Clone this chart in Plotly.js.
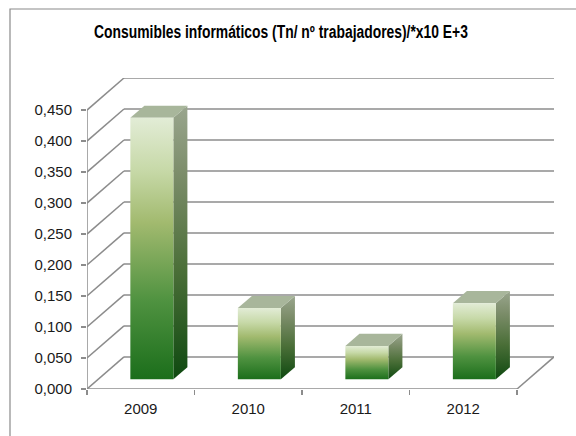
<!DOCTYPE html>
<html>
<head>
<meta charset="utf-8">
<script src="https://cdn.plot.ly/plotly-3.0.1.min.js"></script>
<style>
html,body{margin:0;padding:0;background:#fff;}
#chart{width:576px;height:436px;}
</style>
</head>
<body>
<div id="chart"></div>
<script>
// ---- data ----
const categories = ['2009', '2010', '2011', '2012'];
const values = [0.422, 0.115, 0.054, 0.123];
const yTicks = [0, 0.05, 0.10, 0.15, 0.20, 0.25, 0.30, 0.35, 0.40, 0.45];
const titleText = '<b>Consumibles informáticos (Tn/ nº trabajadores)/*x10 E+3</b>';

// ---- 3D projection geometry (in axis units) ----
const dx = 0.344;     // depth shift along x (category units)
const dy = 0.0518;    // depth shift along y (value units)
const f0 = 0.30, f1 = 0.68; // bar depth span (fraction of full depth)
const hw = 0.20;      // bar half width
const xMin = -0.5, xMax = categories.length - 0.5;
const yTop = yTicks[yTicks.length - 1];

const gridColor = '#8c8c8c';
const traces = [];
function line(xs, ys, w) {
  traces.push({type:'scatter', mode:'lines', x:xs, y:ys, hoverinfo:'skip', showlegend:false,
    line:{color:gridColor, width:w||1.5}, cliponaxis:false});
}
// back wall gridlines and side-wall diagonals
yTicks.forEach(v => {
  line([xMin + dx, xMax + dx], [v + dy, v + dy]);
  line([xMin, xMin + dx], [v, v + dy]);
});
// front axis line, floor front edge and right floor edge
line([xMin, xMin], [0, yTop]);
line([xMin, xMax], [0, 0]);
line([xMax, xMax + dx], [0, dy]);

const frontScale = [[0,'#1b6e1b'],[0.3,'#4f9240'],[0.6,'#a2ba6f'],[0.8,'#c7d9a8'],[1,'#e2ecd6']];
const sideScale = [[0,'#0e4910'],[0.4,'#4b6f38'],[0.75,'#7c8d6a'],[1,'#9aa68e']];

categories.forEach((c, i) => {
  const v = values[i];
  const xl0 = i - hw + f0*dx, xr0 = i + hw + f0*dx;
  const xl1 = i - hw + f1*dx, xr1 = i + hw + f1*dx;
  const b0 = f0*dy, b1 = f1*dy;
  // side face
  traces.push({type:'scatter', mode:'lines', fill:'toself', hoverinfo:'skip', showlegend:false,
    x:[xr0, xr1, xr1, xr0, xr0], y:[b0, b1, v + b1, v + b0, b0],
    line:{width:0, color:'rgba(0,0,0,0)'},
    fillgradient:{type:'vertical', colorscale:sideScale}});
  // top face
  traces.push({type:'scatter', mode:'lines', fill:'toself', hoverinfo:'skip', showlegend:false,
    x:[xl0, xr0, xr1, xl1, xl0], y:[v + b0, v + b0, v + b1, v + b1, v + b0],
    line:{width:0, color:'rgba(0,0,0,0)'}, fillcolor:'#a8b69b'});
  // front face
  traces.push({type:'scatter', mode:'lines', fill:'toself', hoverinfo:'skip', showlegend:false,
    x:[xl0, xr0, xr0, xl0, xl0], y:[b0, b0, v + b0, v + b0, b0],
    line:{width:0, color:'rgba(0,0,0,0)'},
    fillgradient:{type:'vertical', colorscale:frontScale}});
});

const tickFont = {family:'"Liberation Sans Narrow", "Arial Narrow", "Liberation Sans", sans-serif', size:15, color:'#1a1a1a'};
const titleCx = 281;

const layout = {
  width:576, height:436,
  margin:{l:87, r:22, t:78, b:47, pad:0},
  paper_bgcolor:'#ffffff', plot_bgcolor:'rgba(0,0,0,0)',
  separators:',.',
  showlegend:false,
  title:{text:titleText, x:titleCx/576, xref:'container', xanchor:'center',
    y:1 - 32/436, yref:'container', yanchor:'middle',
    font:{family:'"Liberation Sans", sans-serif', size:18, color:'#000'}},
  xaxis:{range:[xMin, xMax + dx], showgrid:false, zeroline:false, showline:false,
    tickmode:'array', tickvals:categories.map((c,i)=>i), ticktext:categories,
    ticks:'', tickfont:tickFont, ticklabelstandoff:9,
    minor:{tickmode:'linear', tick0:xMin, dtick:1, ticks:'outside', ticklen:5, tickwidth:1.5, tickcolor:gridColor, showgrid:false},
    fixedrange:true},
  yaxis:{range:[0, yTop + dy], showgrid:false, zeroline:false, showline:false,
    tickmode:'array', tickvals:yTicks, tickformat:'.3f',
    ticks:'outside', ticklen:5, tickwidth:1.5, tickcolor:gridColor,
    tickfont:tickFont, ticklabelstandoff:6, fixedrange:true},
  shapes:[{type:'rect', xref:'paper', yref:'paper', x0:(10-87)/467, x1:2, y0:-1, y1:(389-9)/311,
    line:{color:'#8a8a8a', width:1.2}, fillcolor:'rgba(0,0,0,0)', layer:'below'}]
};

Plotly.newPlot('chart', traces, layout, {staticPlot:true, displayModeBar:false}).then(gd => {
  // condense the title horizontally to the narrow width of the original
  const t = gd.querySelector('.gtitle');
  const g = gd.querySelector('.g-gtitle');
  if (t && g) {
    const w = t.getBBox().width;
    if (w > 0) {
      const s = 374 / w;
      g.setAttribute('transform', 'translate(' + (titleCx * (1 - s)) + ',0) scale(' + s + ',1)');
    }
  }
});
</script>
</body>
</html>
